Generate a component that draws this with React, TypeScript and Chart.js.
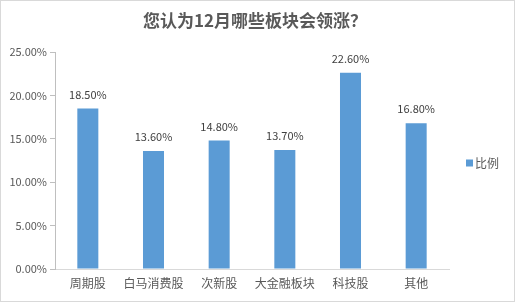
import React, { useEffect, useRef } from "react";
import { Chart, registerables } from "chart.js";

Chart.register(...registerables);

const title = "您认为12月哪些板块会领涨？";
const categories = ["周期股", "白马消费股", "次新股", "大金融板块", "科技股", "其他"];
const seriesName = "比例";
const values = [0.185, 0.136, 0.148, 0.137, 0.226, 0.168];
const yMax = 0.25;
const yStep = 0.05;

const FONT = "'Microsoft YaHei', 'Noto Sans CJK SC', 'DejaVu Sans', sans-serif";
const BAR = "#5B9BD5";
const TEXT = "#595959";

const dataLabels = {
  id: "dataLabels",
  afterDatasetsDraw(chart: any) {
    const ctx = chart.ctx;
    const meta = chart.getDatasetMeta(0);
    ctx.save();
    ctx.font = `11px ${FONT}`;
    ctx.fillStyle = "#404040";
    ctx.textAlign = "center";
    ctx.textBaseline = "middle";
    meta.data.forEach((bar: any, i: number) => {
      ctx.fillText((values[i] * 100).toFixed(2) + "%", bar.x, bar.y - 14);
    });
    ctx.restore();
  },
};

const overlay = {
  id: "overlay",
  afterDraw(chart: any) {
    const ctx = chart.ctx;
    ctx.save();
    ctx.font = `bold 17px ${FONT}`;
    ctx.fillStyle = TEXT;
    ctx.textAlign = "center";
    ctx.textBaseline = "middle";
    ctx.fillText(title, 254, 20);
    const x = 465;
    const y = 162;
    ctx.fillStyle = BAR;
    ctx.fillRect(x, y - 3.5, 7, 7);
    ctx.font = `12px ${FONT}`;
    ctx.fillStyle = TEXT;
    ctx.textAlign = "left";
    ctx.fillText(seriesName, x + 9, y);
    ctx.restore();
  },
};

export default function App() {
  const ref = useRef<HTMLCanvasElement>(null);
  useEffect(() => {
    document.body.style.margin = "0";
    const chart = new Chart(ref.current!, {
      type: "bar",
      data: {
        labels: categories,
        datasets: [
          {
            label: seriesName,
            data: values,
            backgroundColor: BAR,
            borderWidth: 0,
            barPercentage: 1,
            categoryPercentage: 0.32,
          },
        ],
      },
      options: {
        responsive: false,
        animation: false,
        devicePixelRatio: 1,
        layout: { padding: { top: 51, right: 65, left: 0, bottom: 0 } },
        plugins: {
          legend: { display: false },
          tooltip: { enabled: false },
          title: { display: false },
        },
        scales: {
          x: {
            grid: { display: true, drawOnChartArea: false, drawTicks: false },
            border: { display: true, color: "#d9d9d9", width: 1 },
            ticks: {
              color: TEXT,
              font: { family: FONT, size: 12 },
              padding: 7,
              maxRotation: 0,
              minRotation: 0,
              autoSkip: false,
            },
            afterFit: (s: any) => {
              s.height = 32;
            },
          },
          y: {
            min: 0,
            max: yMax,
            grid: { display: true, drawOnChartArea: false, drawTicks: true, tickLength: 5, color: "#bfbfbf" },
            border: { display: true, color: "#bfbfbf", width: 1 },
            ticks: {
              stepSize: yStep,
              color: TEXT,
              padding: 3,
              font: { family: FONT, size: 11 },
              callback: (v: any) => (Number(v) * 100).toFixed(2) + "%",
            },
            afterFit: (s: any) => {
              s.width = 54;
            },
          },
        },
      },
      plugins: [dataLabels, overlay],
    });
    return () => chart.destroy();
  }, []);
  return (
    <div
      style={{
        width: 515,
        height: 302,
        boxSizing: "border-box",
        border: "1px solid #d9d9d9",
        background: "#fff",
      }}
    >
      <canvas ref={ref} width={513} height={300} style={{ display: "block" }} />
    </div>
  );
}
